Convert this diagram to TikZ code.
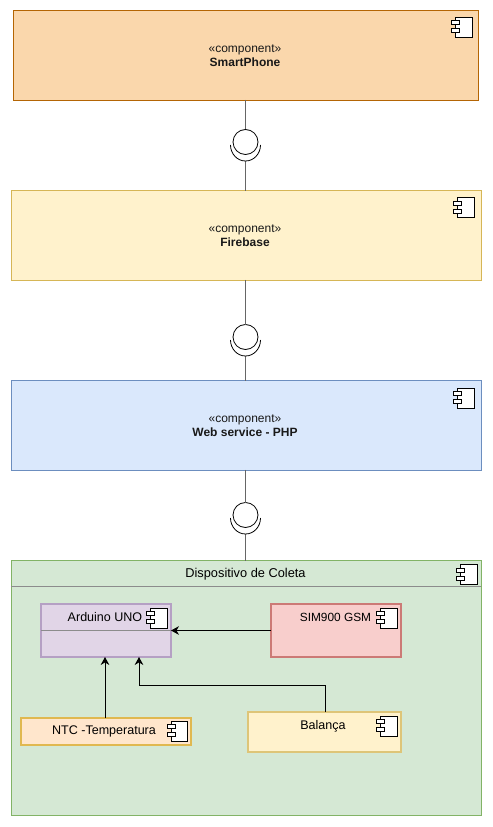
\documentclass[tikz,border=0pt]{standalone}
\usepackage{fontspec}
\setmainfont{Liberation Sans}
\usepackage{xcolor}
\usetikzlibrary{arrows.meta}
\definecolor{orangeFill}{HTML}{FAD7AC}
\definecolor{orangeLine}{HTML}{B46504}
\definecolor{yellowFill}{HTML}{FFF2CC}
\definecolor{yellowLine}{HTML}{D6B656}
\definecolor{blueFill}{HTML}{DAE8FC}
\definecolor{blueLine}{HTML}{6C8EBF}
\definecolor{greenFill}{HTML}{D5E8D4}
\definecolor{greenLine}{HTML}{82B366}
\definecolor{purpleFill}{HTML}{E1D5E7}
\definecolor{purpleLine}{HTML}{B5A0C4}
\definecolor{redFill}{HTML}{F8CECC}
\definecolor{redLine}{HTML}{CC7A76}
\definecolor{peachFill}{HTML}{FFE6CC}
\definecolor{peachLine}{HTML}{E0B850}
\tikzset{
    compbox/.style={draw,rectangle,inner sep=0pt,outer sep=0pt,line width=0.6pt},
    subbox/.style={compbox,line width=0.9pt},
    lbl/.style={inner sep=0pt,font=\fontsize{9}{10.5}\selectfont,align=center,text=black!90},
    sublbl/.style={inner sep=0pt,font=\fontsize{9.4}{11}\selectfont,text=black},
    wire/.style={draw=black!60,line width=0.9pt},
    link/.style={draw=black,line width=0.75pt,-{Stealth[length=6pt,width=6.5pt]}},
    lollipop/.style={draw,circle,fill=white,minimum size=18.75pt,inner sep=0pt,outer sep=0pt,line width=0.6pt},
    pics/compicon/.style={code={
        \draw[fill=white,line width=0.75pt] (-16.7,0) rectangle (0,-20);
        \draw[fill=white,line width=0.75pt] (-20.7,-3.5) rectangle (-12.7,-7.5);
        \draw[fill=white,line width=0.75pt] (-20.7,-11.5) rectangle (-12.7,-15.5);
    }}
}

\begin{document}
\begin{tikzpicture}[x=0.75pt,y=0.75pt]
    \useasboundingbox (0,0) rectangle (492,-827);
    % top boxes
    \node[compbox,draw=orangeLine,fill=orangeFill,minimum width=348.75pt,minimum height=67.1pt] (smartphone) at (246,-55.25) {};
    \node[compbox,draw=yellowLine,fill=yellowFill,minimum width=352.5pt,minimum height=67.1pt] (firebase) at (246,-235.25) {};
    \node[compbox,draw=blueLine,fill=blueFill,minimum width=352.5pt,minimum height=67.1pt] (webservice) at (246,-425.25) {};
    \node[lbl] (smartphonetxt) at (245,-55.8) {«component»\\\textbf{SmartPhone}};
    \node[lbl] (firebasetxt) at (245,-235.8) {«component»\\\textbf{Firebase}};
    \node[lbl] (webservicetxt) at (245,-425.8) {«component»\\\textbf{Web service - PHP}};
    \pic at (472,-17.5) {compicon};
    \pic at (474,-198) {compicon};
    \pic at (474,-388) {compicon};

    % device container
    \node[compbox,draw=greenLine,fill=greenFill,minimum width=352.5pt,minimum height=191.25pt] (dispositivo) at (246,-688) {};
    \coordinate (headl) at (11,-586.5);
    \coordinate (headr) at (481,-586.5);
    \draw[black!45,line width=0.6pt] (headl) -- (headr);
    \node[sublbl,font=\fontsize{9.6}{11}\selectfont] (dispositivotxt) at (245.5,-573.8) {Dispositivo de Coleta};
    \pic at (477,-564.7) {compicon};

    % inner boxes
    \node[subbox,draw=purpleLine,fill=purpleFill,minimum width=97.5pt,minimum height=39.75pt] (arduino) at (106,-630.5) {};
    \draw[black!45,line width=0.6pt] (arduino.west) -- (arduino.east);
    \node[subbox,draw=redLine,fill=redFill,minimum width=97.5pt,minimum height=39.75pt] (sim) at (336,-630.5) {};
    \node[subbox,draw=peachLine,fill=peachFill,minimum width=127.5pt,minimum height=20.25pt] (ntc) at (106,-731.5) {};
    \node[subbox,draw=yellowLine!80,fill=yellowFill,minimum width=114.75pt,minimum height=30pt] (balanca) at (324.5,-732) {};
    \node[sublbl] (arduinotxt) at (105,-617) {Arduino UNO};
    \node[sublbl,font=\fontsize{8.9}{11}\selectfont] (simtxt) at (335.5,-617) {SIM900 GSM};
    \node[sublbl] (ntctxt) at (104,-731.3) {NTC -Temperatura};
    \node[sublbl] (balancatxt) at (323,-725.8) {Balança};
    \pic at (167,-608) {compicon};
    \pic at (397.3,-608) {compicon};
    \pic at (187.7,-721) {compicon};
    \pic at (397.3,-716) {compicon};

    % interfaces
    \foreach \name/\upper/\lower/\cy in {a/smartphone/firebase/142,b/firebase/webservice/337,c/webservice/dispositivo/515}{
        \node[lollipop] (circ\name) at (245.5,-\cy) {};
        \coordinate (cup\name) at (245.5,-\cy-19);
        \draw[wire] (circ\name.north |- \upper.south) -- (circ\name.north);
        \draw[wire] (cup\name) -- (cup\name |- \lower.north);
        \draw[line width=0.6pt] (230.5,-\cy-3) arc[start angle=180,end angle=360,x radius=15,y radius=16];
    }

    % arrows
    \draw[link] (sim.west) -- (arduino.east);
    \draw[link] (105,0 |- ntc.north) -- (105,0 |- arduino.south);
    \draw[link] (325,0 |- balanca.north) -- (325,-685.5) -- (139,-685.5) -- (139,0 |- arduino.south);
\end{tikzpicture}
\end{document}
